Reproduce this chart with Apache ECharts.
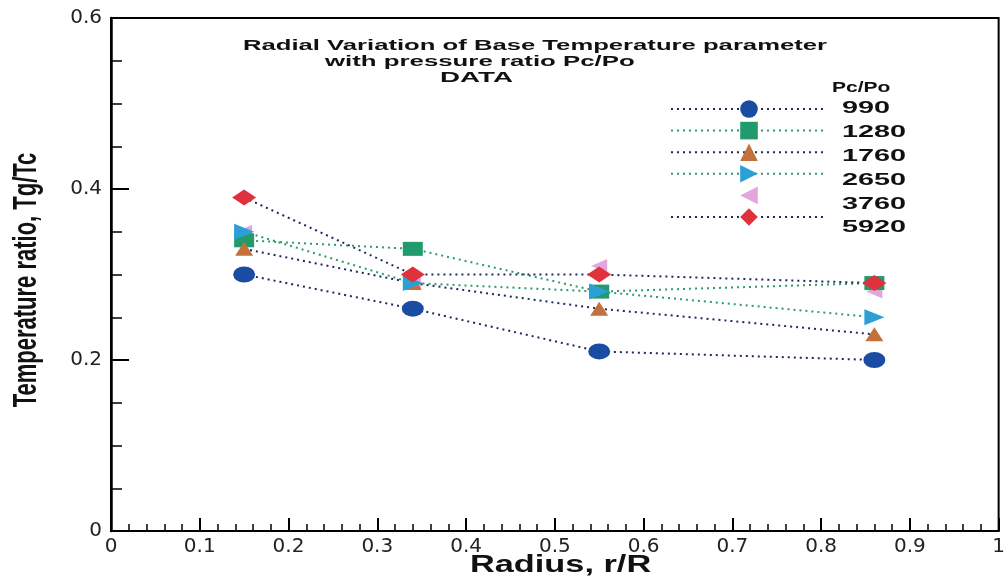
<!DOCTYPE html>
<html>
<head>
<meta charset="utf-8">
<script src="https://cdn.jsdelivr.net/npm/echarts@6/dist/echarts.min.js"></script>
<style>
  html, body { margin: 0; padding: 0; background: #fff; }
  #main { width: 1008px; height: 582px; }
</style>
</head>
<body>
<div id="main"></div>
<script>
// radial positions r/R
var radius = [0.15, 0.34, 0.55, 0.86];
// pressure ratio Pc/Po
var seriesNames = ['990', '1280', '1760', '2650', '3760', '5920'];
// Tg/Tc
var t990  = [0.30, 0.26, 0.21, 0.20];
var t1280 = [0.34, 0.33, 0.28, 0.29];
var t1760 = [0.33, 0.29, 0.26, 0.23];
var t2650 = [0.35, 0.29, 0.28, 0.25];
var t3760 = [0.35, 0.29, 0.31, 0.28];
var t5920 = [0.39, 0.30, 0.30, 0.29];

var values = [t990, t1280, t1760, t2650, t3760, t5920];
var dark = '#1c2a5c';
var green = '#2e9a6e';
// marker look per series (z: draw order)
var looks = [
  { symbol: 'circle',   size: [22, 16], rot: 0,   color: '#1a4ca3', line: dark,  lw: 2, z: 3 },
  { symbol: 'rect',     size: [20, 14], rot: 0,   color: '#239a6c', line: green, lw: 2, z: 4 },
  { symbol: 'triangle', size: [18, 14], rot: 0,   color: '#c4703a', line: dark,  lw: 2, z: 5 },
  { symbol: 'triangle', size: [16, 20], rot: -90, color: '#2aa0d6', line: green, lw: 2, z: 6 },
  { symbol: 'triangle', size: [14, 16], rot: 90,  color: '#e2a6dc', line: '#fff', lw: 0, z: 2 },
  { symbol: 'diamond',  size: [24, 16], rot: 0,   color: '#e0323c', line: dark,  lw: 2, z: 7 }
];

var series = seriesNames.map(function (name, i) {
  var lk = looks[i];
  return {
    name: name,
    type: 'line',
    data: radius.map(function (r, j) { return [r, values[i][j]]; }),
    symbol: lk.symbol,
    symbolSize: lk.size,
    symbolRotate: lk.rot,
    itemStyle: { color: lk.color },
    lineStyle: { color: lk.line, width: lk.lw, type: [2, 4], opacity: lk.lw ? 1 : 0 },
    z: lk.z
  };
});

// stretched text helper (the source figure is widened horizontally)
function label(text, x, y, size, sx) {
  return {
    type: 'text', x: x, y: y, scaleX: sx || 1,
    style: { text: text, font: 'bold ' + size + 'px Arial, Liberation Sans', fill: '#111', verticalAlign: 'middle' }
  };
}

var legendTop = 109, legendStep = 23.8;
var graphics = [
  label('Radial Variation of Base Temperature parameter', 243, 46, 15, 1.71),
  label('with pressure ratio Pc/Po', 325, 62, 15, 1.72),
  label('DATA', 440, 78, 15, 1.85),
  label('Pc/Po', 832, 88, 15, 1.4),
  label('Radius, r/R', 470, 565, 24, 1.43),
  // y axis title, rotated; scaleY widens it across the page after rotation
  {
    type: 'text', x: 27, y: 280, rotation: Math.PI / 2, scaleY: 1.5,
    style: { text: 'Temperature ratio, Tg/Tc', font: 'bold 22px Arial, Liberation Sans', fill: '#111', align: 'center', verticalAlign: 'middle' }
  }
];
seriesNames.forEach(function (name, i) {
  graphics.push(label(name, 842, legendTop + i * legendStep, 16, 1.8));
});

var chart = echarts.init(document.getElementById('main'));
chart.setOption({
  animation: false,
  grid: { left: 111, right: 1, top: 18, bottom: 51, show: true, borderColor: '#000', borderWidth: 2 },
  graphic: graphics,
  legend: {
    orient: 'vertical',
    left: 665,
    top: legendTop - 11 - 5,
    itemWidth: 156,
    itemHeight: 22,
    itemGap: 1.8,
    formatter: function () { return ''; },
    textStyle: { fontSize: 8 },
    data: seriesNames
  },
  xAxis: {
    type: 'value',
    min: 0, max: 1, interval: 0.1,
    axisLine: { lineStyle: { color: '#000', width: 2 } },
    axisTick: { inside: true, length: 13, lineStyle: { color: '#000', width: 2 } },
    minorTick: { show: true, splitNumber: 5, length: 7, lineStyle: { color: '#000', width: 1.5 } },
    splitLine: { show: false },
    axisLabel: { fontFamily: 'DejaVu Sans', fontSize: 20, color: '#222', margin: 6, showMaxLabel: true }
  },
  yAxis: {
    type: 'value',
    min: 0, max: 0.6, interval: 0.2,
    axisLine: { lineStyle: { color: '#000', width: 2.5 } },
    axisTick: { inside: true, length: 18, lineStyle: { color: '#000', width: 2 } },
    minorTick: { show: true, splitNumber: 4, length: 11, lineStyle: { color: '#000', width: 1.5 } },
    splitLine: { show: false },
    axisLabel: { fontFamily: 'DejaVu Sans', fontSize: 20, color: '#222', margin: 9 }
  },
  series: series
});
</script>
</body>
</html>
